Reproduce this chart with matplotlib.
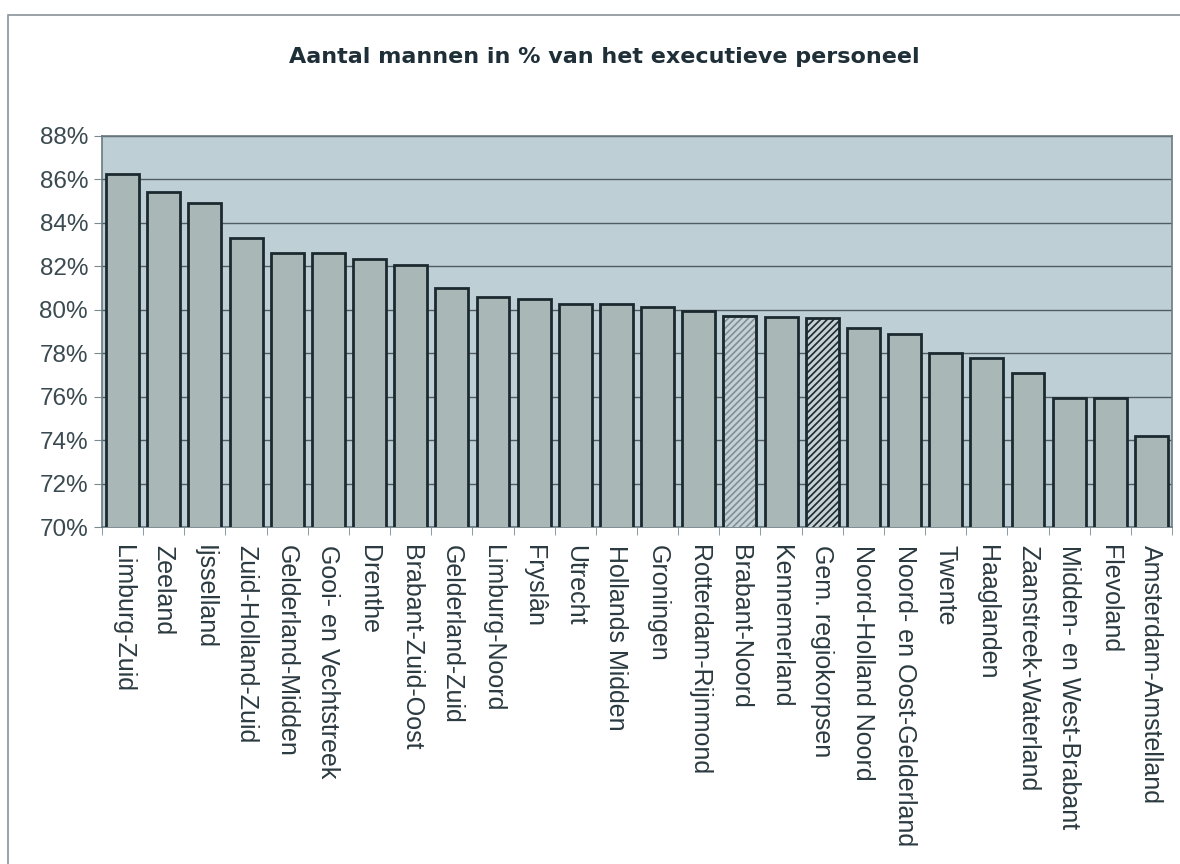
import matplotlib
matplotlib.use("Agg")
from matplotlib import pyplot as plt
from matplotlib.patches import Rectangle
from matplotlib.ticker import FuncFormatter, MultipleLocator
import numpy as np

plt.rcParams['font.family'] = ['Liberation Sans', 'DejaVu Sans']
plt.rcParams['hatch.linewidth'] = 1.2

korpsen = ['Limburg-Zuid', 'Zeeland', 'Ijsselland', 'Zuid-Holland-Zuid',
           'Gelderland-Midden', 'Gooi- en Vechtstreek', 'Drenthe',
           'Brabant-Zuid-Oost', 'Gelderland-Zuid', 'Limburg-Noord', 'Fryslân',
           'Utrecht', 'Hollands Midden', 'Groningen', 'Rotterdam-Rijnmond',
           'Brabant-Noord', 'Kennemerland', 'Gem. regiokorpsen',
           'Noord-Holland Noord', 'Noord- en Oost-Gelderland', 'Twente',
           'Haaglanden', 'Zaanstreek-Waterland', 'Midden- en West-Brabant',
           'Flevoland', 'Amsterdam-Amstelland']
mannen_pct = [86.25, 85.4, 84.9, 83.3, 82.6, 82.6, 82.35, 82.05, 81.0, 80.6,
              80.5, 80.25, 80.25, 80.15, 79.95, 79.7, 79.65, 79.6, 79.15,
              78.9, 78.0, 77.8, 77.1, 75.95, 75.95, 74.2]

bg_col = '#bfcfd6'
bar_col = '#aab7b7'
edge_col = '#1c2a30'

fig = plt.figure(figsize=(11.8, 8.64), dpi=100)
fig.patch.set_facecolor('white')

# rand van het grafiekgebied
fig.patches.append(Rectangle((8 / 1180, -0.05), 1.2, 1 - 15 / 864 + 0.05,
                             transform=fig.transFigure, fill=False,
                             edgecolor='#8a949a', linewidth=1.2))

ax = fig.add_axes([102 / 1180, 1 - 527 / 864, 1070 / 1180, 391 / 864])
ax.set_facecolor(bg_col)

x = np.arange(len(korpsen))
bars = ax.bar(x, mannen_pct, width=0.8, bottom=0, color=bar_col,
              edgecolor=edge_col, linewidth=2.0, zorder=3)

# Brabant-Noord en gemiddelde regiokorpsen gearceerd
bars[15].set_facecolor('#c6d1d6')
bars[15].set_hatch('/////')
bars[15].set_edgecolor('#7f8f96')
ax.bar(x[15], mannen_pct[15], width=0.8, fill=False, edgecolor=edge_col,
       linewidth=2.0, zorder=4)
bars[17].set_facecolor('#c6d1d6')
bars[17].set_hatch('/////')

ax.set_ylim(70, 88)
ax.set_xlim(-0.5, len(korpsen) - 0.5)
ax.yaxis.set_major_locator(MultipleLocator(2))
ax.yaxis.set_major_formatter(FuncFormatter(lambda v, p: f'{v:.0f}%'))
ax.grid(axis='y', color='#4f5d63', linewidth=1.0, zorder=1)

ax.set_xticks(x)
ax.set_xticklabels(korpsen, rotation=270, ha='center', va='top')
ax.set_xticks(np.arange(len(korpsen) + 1) - 0.5, minor=True)
ax.tick_params(axis='x', which='major', length=0, pad=13,
               labelsize=18, labelcolor='#2b3a40')
ax.tick_params(axis='x', which='minor', length=6, color='#7a8a90',
               direction='out')
ax.tick_params(axis='y', length=6, color='#7a8a90', labelsize=17.5,
               labelcolor='#3a4a50', pad=4)

for s in ax.spines.values():
    s.set_color('#6a7a80')
    s.set_linewidth(1.2)

fig.text(604 / 1180, 1 - 57 / 864,
         'Aantal mannen in % van het executieve personeel',
         ha='center', va='center', fontsize=16, fontweight='bold',
         family=['DejaVu Sans'], color='#1f2f38')

fig.savefig('out.png', dpi=100)
